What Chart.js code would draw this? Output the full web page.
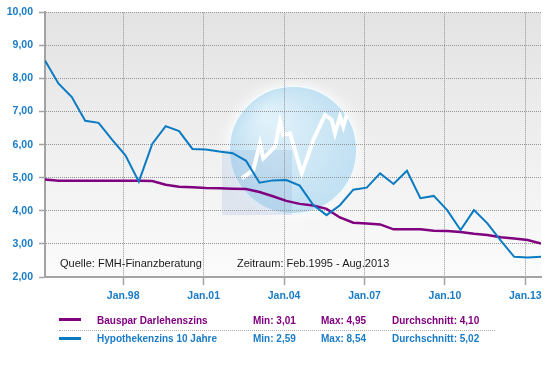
<!DOCTYPE html>
<html><head><meta charset="utf-8">
<script src="https://cdn.jsdelivr.net/npm/chart.js@4.4.0/dist/chart.umd.min.js"></script>
<style>
html,body{margin:0;padding:0;background:#fff;}
#wrap{position:relative;width:558px;height:380px;overflow:hidden;font-family:"Liberation Sans",Arial,sans-serif;}
canvas{position:absolute;left:0;top:0;}
.t{position:absolute;white-space:nowrap;font-weight:bold;font-size:10px;line-height:12px;}
.n{position:absolute;white-space:nowrap;font-size:11px;line-height:13px;color:#1a1a1a;}
.sw{position:absolute;height:3px;width:22px;}
.sep{position:absolute;left:59px;width:436px;top:330px;height:0;border-top:1px dotted #a8a8a8;}
</style></head><body>
<div id="wrap"><canvas id="c" width="558" height="380"></canvas><div id="legend"></div></div>
<script>
// ---- data ----
const dates = ["02.1995","08.1995","02.1996","08.1996","02.1997","08.1997","02.1998","08.1998",
  "02.1999","08.1999","02.2000","08.2000","02.2001","08.2001","02.2002","08.2002",
  "02.2003","08.2003","02.2004","08.2004","02.2005","08.2005","02.2006","08.2006",
  "02.2007","08.2007","02.2008","08.2008","02.2009","08.2009","02.2010","08.2010",
  "02.2011","08.2011","02.2012","08.2012","02.2013","08.2013"];
const bauspar = [4.95,4.91,4.91,4.91,4.91,4.91,4.91,4.91,4.90,4.79,4.73,4.71,4.69,4.68,4.67,4.66,
  4.57,4.44,4.30,4.21,4.16,4.06,3.80,3.64,3.62,3.59,3.44,3.44,3.44,3.40,3.39,3.36,3.31,3.27,3.20,3.16,3.12,3.01];
const hypo = [8.54,7.85,7.44,6.72,6.66,6.15,5.68,4.88,6.02,6.56,6.41,5.87,5.85,5.79,5.74,5.51,
  4.85,4.92,4.93,4.76,4.18,3.87,4.17,4.64,4.70,5.13,4.81,5.21,4.38,4.45,4.02,3.42,4.02,3.62,3.10,2.61,2.59,2.61];
const seriesNames = ["Bauspar Darlehenszins","Hypothekenzins 10 Jahre"];
const seriesMin = ["3,01","2,59"];
const seriesMax = ["4,95","8,54"];
const seriesAvg = ["4,10","5,02"];
const xTickYears = [1998,2001,2004,2007,2010,2013];
const xTickLabels = ["Jan.98","Jan.01","Jan.04","Jan.07","Jan.10","Jan.13"];
const yMin = 2, yMax = 10, yStep = 1;
const sourceText = "Quelle: FMH-Finanzberatung";
const periodText = "Zeitraum: Feb.1995 - Aug.2013";

// ---- build ----
const PURPLE = '#800080', BLUE = '#0a7bc2', LABEL_BLUE = '#1a7cc6';
const toYear = s => { const [m,y] = s.split('.'); return +y + (+m - 1)/12; };
const xs = dates.map(toYear);
const pts = arr => arr.map((v,i) => ({x: xs[i], y: v}));

const bgPlugin = {
  id: 'bg',
  beforeDraw(chart) {
    const {ctx, chartArea: a} = chart;
    ctx.save();
    const g = ctx.createLinearGradient(0, a.top, 0, a.bottom);
    g.addColorStop(0, '#e3e3e3'); g.addColorStop(1, '#fbfbfb');
    ctx.fillStyle = g;
    ctx.fillRect(a.left, a.top, a.right - a.left, a.bottom - a.top);
    // decorative globe watermark
    const cx = 293, cy = 150, r = 65;
    ctx.shadowColor = 'rgba(255,255,255,1)'; ctx.shadowBlur = 14;
    const rg = ctx.createRadialGradient(cx - 25, cy - 35, 5, cx, cy, r);
    rg.addColorStop(0, '#e0f1fa'); rg.addColorStop(1, '#c0e0f2');
    ctx.fillStyle = rg;
    ctx.beginPath(); ctx.arc(cx, cy, r, 0, Math.PI*2); ctx.fill();
    ctx.shadowBlur = 0;
    ctx.strokeStyle = 'rgba(255,255,255,0.8)'; ctx.lineWidth = 2;
    ctx.beginPath(); ctx.arc(cx, cy, r - 1, 0, Math.PI*2); ctx.stroke();
    ctx.fillStyle = 'rgba(130,165,210,0.2)';
    ctx.fillRect(222, cy, cx - 1 - 222, 215 - cy);
    const w = [[241.7,178.3],[253.3,170],[260,143.3],[263.3,158.3],[275,146.7],[280,121.7],[283.3,135],[290,133.3],
      [301.7,173.3],[313.3,140],[325,115],[331.7,120],[335,133.3],[340,116.7],[343.3,126.7],[346.7,115]];
    ctx.strokeStyle = '#ffffff'; ctx.lineWidth = 4; ctx.lineJoin = 'miter';
    ctx.beginPath(); w.forEach((p,i) => i ? ctx.lineTo(p[0],p[1]) : ctx.moveTo(p[0],p[1])); ctx.stroke();
    ctx.restore();
  }
};

new Chart(document.getElementById('c'), {
  type: 'line',
  data: {
    datasets: [
      {label: seriesNames[1], data: pts(hypo), borderColor: BLUE, borderWidth: 2, pointRadius: 0, tension: 0, order: 0},
      {label: seriesNames[0], data: pts(bauspar), borderColor: PURPLE, borderWidth: 2.5, pointRadius: 0, tension: 0, order: 1}
    ]
  },
  options: {
    responsive: false, animation: false, devicePixelRatio: 1,
    layout: {padding: {top: 12, right: 17, left: 0, bottom: 0}},
    plugins: {legend: {display: false}, tooltip: {enabled: false}},
    scales: {
      x: {
        type: 'linear', min: xs[0], max: xs[xs.length - 1],
        afterBuildTicks: s => { s.ticks = xTickYears.map(v => ({value: v})); },
        afterFit: s => { s.height = 103; },
        ticks: {
          callback: v => xTickLabels[xTickYears.indexOf(v)] ?? '',
          color: LABEL_BLUE, font: {family: '"Liberation Sans", Arial', size: 10.5, weight: 'bold'},
          padding: 5, maxRotation: 0, autoSkip: false
        },
        grid: {color: '#959595', lineWidth: 1, tickLength: 8, tickColor: '#a3a3a3', tickBorderDash: [], tickWidth: 1.5},
        border: {display: true, color: '#a3a3a3', width: 2, dash: [1,1]}
      },
      y: {
        min: yMin, max: yMax,
        afterFit: s => { s.width = 45; },
        ticks: {
          stepSize: yStep,
          callback: v => v.toFixed(2).replace('.', ','),
          color: LABEL_BLUE, font: {family: '"Liberation Sans", Arial', size: 10.5, weight: 'bold'},
          padding: 6
        },
        grid: {color: '#959595', lineWidth: 1, tickLength: 6, tickColor: '#a3a3a3', tickBorderDash: [], tickWidth: 1.5},
        border: {display: true, color: '#a3a3a3', width: 2, dash: [1,1]}
      }
    }
  },
  plugins: [bgPlugin]
});

// ---- legend & notes (real text) ----
const lg = document.getElementById('legend');
const colors = [PURPLE, LABEL_BLUE], lineCols = [PURPLE, BLUE];
const rowTops = [314.5, 333.2], swTops = [318, 336.5];
let html = '';
seriesNames.forEach((name, i) => {
  html += `<div class="sw" style="left:59px;top:${swTops[i]}px;background:${lineCols[i]}"></div>`;
  html += `<div class="t" style="left:97px;top:${rowTops[i]}px;color:${colors[i]}">${name}</div>`;
  html += `<div class="t" style="left:253px;top:${rowTops[i]}px;color:${colors[i]}">Min: ${seriesMin[i]}</div>`;
  html += `<div class="t" style="left:321px;top:${rowTops[i]}px;color:${colors[i]}">Max: ${seriesMax[i]}</div>`;
  html += `<div class="t" style="left:392px;top:${rowTops[i]}px;color:${colors[i]}">Durchschnitt: ${seriesAvg[i]}</div>`;
});
html += `<div class="sep"></div>`;
html += `<div class="n" style="left:60px;top:256.8px">${sourceText}</div>`;
html += `<div class="n" style="left:237px;top:256.8px">${periodText}</div>`;
lg.innerHTML = html;
</script>
</body></html>
